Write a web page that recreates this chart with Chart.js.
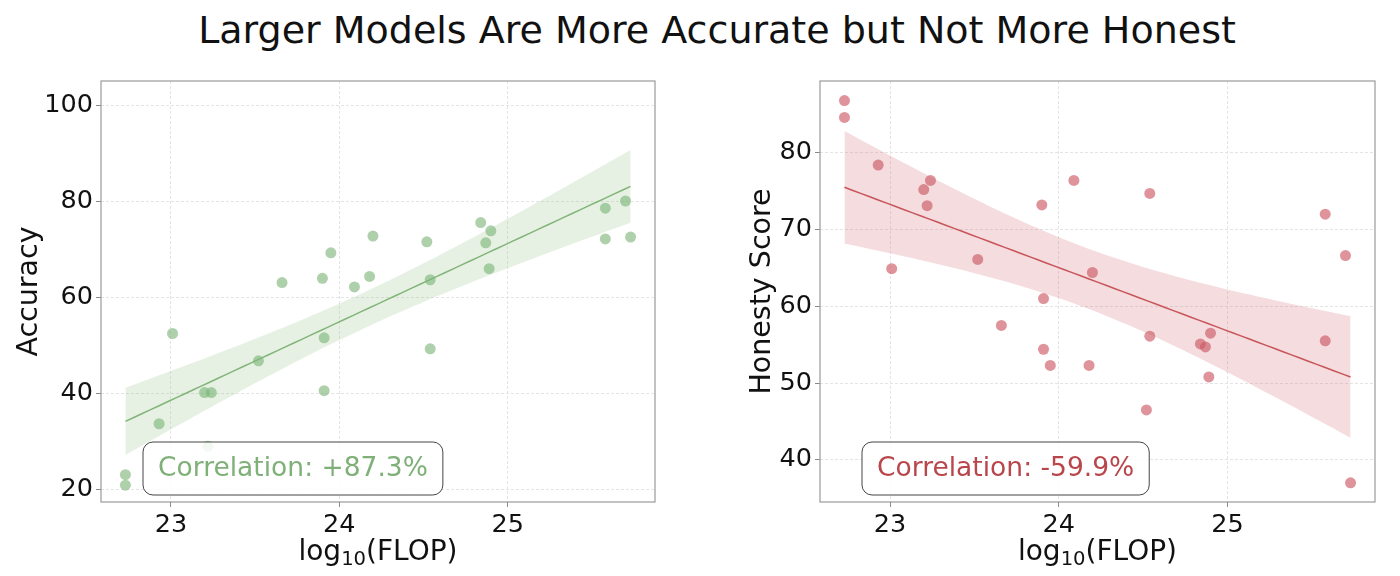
<!DOCTYPE html>
<html>
<head>
<meta charset="utf-8">
<script src="https://cdn.jsdelivr.net/npm/chart.js@4.4.1/dist/chart.umd.min.js"></script>
<style>
  body { margin: 0; background: #fff; width: 1400px; height: 576px; overflow: hidden; font-family: 'DejaVu Sans', sans-serif; }
  #title { position: absolute; top: 8px; left: 0; width: 1400px; padding-left: 34px; box-sizing: border-box;
           text-align: center; font-size: 38px; color: #111; }
  .box { position: absolute; top: 0; width: 700px; height: 576px; }
</style>
</head>
<body>
<div id="title">Larger Models Are More Accurate but Not More Honest</div>
<div class="box" style="left:0"><canvas id="chart-acc"></canvas></div>
<div class="box" style="left:700px"><canvas id="chart-hon"></canvas></div>
<script>
// log10(FLOP) per model (shared by both panels)
const flop = [22.73, 22.73, 22.93, 23.01, 23.20, 23.22, 23.24, 23.52, 23.66, 23.90, 23.91, 23.91, 23.95, 24.09,
              24.18, 24.20, 24.52, 24.54, 24.54, 24.84, 24.87, 24.89, 24.90, 25.58, 25.58, 25.70, 25.73];
const accuracy = [23.0, 20.8, 33.6, 52.4, 40.1, 28.9, 40.1, 46.7, 63.0, 63.9, 40.5, 51.5, 69.2, 62.1,
                  64.3, 72.7, 71.5, 63.6, 49.2, 75.5, 71.3, 65.9, 73.8, 78.5, 72.1, 80.0, 72.5];
const honesty = [86.8, 84.6, 78.4, 64.9, 75.2, 73.1, 76.4, 66.1, 57.5, 73.2, 54.4, 61.0, 52.3, 76.4,
                 52.3, 64.4, 46.5, 74.7, 56.1, 55.1, 54.7, 50.8, 56.5, 72.0, 55.5, 66.6, 37.0];
const xTicks = [23, 24, 25];
const accTicks = [20, 40, 60, 80, 100];
const honTicks = [40, 50, 60, 70, 80];
const accLabel = 'Correlation: +87.3%';
const honLabel = 'Correlation: -59.9%';
// x label pieces: "log", subscript "10", "(FLOP)"
const xLabel = ['log', '10', '(FLOP)'];

const FONT = 'DejaVu Sans';

// least squares fit with 95% confidence band
function regression(xs, ys) {
  const n = xs.length;
  const mx = xs.reduce((a, b) => a + b, 0) / n;
  const my = ys.reduce((a, b) => a + b, 0) / n;
  let sxx = 0, sxy = 0;
  xs.forEach((x, i) => { sxx += (x - mx) ** 2; sxy += (x - mx) * (ys[i] - my); });
  const b = sxy / sxx, a = my - b * mx;
  let sse = 0;
  xs.forEach((x, i) => { sse += (ys[i] - a - b * x) ** 2; });
  const s = Math.sqrt(sse / (n - 2));
  const t = 2.06;
  const lo = Math.min(...xs), hi = Math.max(...xs);
  const line = [], upper = [], lower = [];
  for (let k = 0; k <= 60; k++) {
    const x = lo + (hi - lo) * k / 60;
    const yh = a + b * x;
    const se = t * s * Math.sqrt(1 / n + (x - mx) ** 2 / sxx);
    line.push({ x, y: yh });
    upper.push({ x, y: yh + se });
    lower.push({ x, y: yh - se });
  }
  return { line, upper, lower };
}

function makeChart(id, ys, opts) {
  const fit = regression(flop, ys);
  const frame = {
    id: 'frame',
    afterDraw(chart) {
      const { ctx, chartArea: ca } = chart;
      ctx.save();
      ctx.strokeStyle = '#9a9a9a';
      ctx.lineWidth = 1.2;
      ctx.strokeRect(ca.left, ca.top, ca.right - ca.left, ca.bottom - ca.top);

      // x axis label with a real subscript
      const big = '28px "' + FONT + '"', small = '19.6px "' + FONT + '"';
      ctx.font = big;
      const w0 = ctx.measureText(xLabel[0]).width, w2 = ctx.measureText(xLabel[2]).width;
      ctx.font = small;
      const w1 = ctx.measureText(xLabel[1]).width;
      let x = (ca.left + ca.right) / 2 - (w0 + w1 + w2) / 2;
      const base = 560;
      ctx.fillStyle = '#111';
      ctx.textBaseline = 'alphabetic';
      ctx.font = big; ctx.fillText(xLabel[0], x, base); x += w0;
      ctx.font = small; ctx.fillText(xLabel[1], x, base + 5); x += w1;
      ctx.font = big; ctx.fillText(xLabel[2], x, base);

      // correlation box
      ctx.font = '26.5px "' + FONT + '"';
      const tw = ctx.measureText(opts.note).width;
      const bx = ca.left + 42, by = ca.top + 361, bw = tw + 30, bh = 53;
      ctx.beginPath();
      ctx.roundRect(bx, by, bw, bh, 10);
      ctx.fillStyle = 'rgba(255,255,255,0.85)';
      ctx.fill();
      ctx.strokeStyle = '#444';
      ctx.lineWidth = 1;
      ctx.stroke();
      ctx.fillStyle = opts.noteColor;
      ctx.textBaseline = 'middle';
      ctx.fillText(opts.note, bx + 15, by + bh / 2 + 1);
      ctx.restore();
    }
  };
  new Chart(document.getElementById(id), {
    type: 'scatter',
    data: {
      datasets: [
        { data: flop.map((x, i) => ({ x, y: ys[i] })), backgroundColor: opts.point, borderWidth: 0, pointRadius: 5.5 },
        { data: fit.line, showLine: true, borderColor: opts.line, borderWidth: 1.5, pointRadius: 0 },
        { data: fit.upper, showLine: true, borderWidth: 0, pointRadius: 0 },
        { data: fit.lower, showLine: true, borderWidth: 0, pointRadius: 0, fill: '-1', backgroundColor: opts.band },
      ],
    },
    options: {
      responsive: true,
      maintainAspectRatio: false,
      animation: false,
      events: [],
      layout: { padding: { top: 81, right: opts.padRight, left: 0, bottom: 0 } },
      plugins: { legend: { display: false }, tooltip: { enabled: false } },
      scales: {
        x: {
          type: 'linear', min: 22.585, max: 25.875,
          afterBuildTicks: s => { s.ticks = xTicks.map(v => ({ value: v })); },
          afterFit: s => { s.height = 74; },
          ticks: { color: '#111', font: { family: FONT, size: 25.5 }, padding: 3 },
          grid: { color: '#e4e4e4', tickColor: '#8a8a8a', tickLength: 5, tickBorderDash: [] },
          border: { display: false, dash: [3, 2] },
        },
        y: {
          min: opts.ymin, max: opts.ymax,
          afterBuildTicks: s => { s.ticks = opts.ticks.map(v => ({ value: v })); },
          afterFit: s => { s.width = opts.yWidth; },
          ticks: { color: '#111', font: { family: FONT, size: 25.5 }, padding: 3 },
          grid: { color: '#e4e4e4', tickColor: '#8a8a8a', tickLength: 5, tickBorderDash: [] },
          border: { display: false, dash: [3, 2] },
          title: { display: true, text: opts.yTitle, color: '#111', font: { family: FONT, size: 28.5 }, padding: { top: opts.titlePad, bottom: 0 } },
        },
      },
    },
    plugins: [frame],
  });
}

makeChart('chart-acc', accuracy, {
  ymin: 17.3, ymax: 105, ticks: accTicks, yTitle: 'Accuracy', yWidth: 101, titlePad: 12, padRight: 45,
  point: 'rgba(125,180,120,0.62)', line: 'rgb(130,180,120)', band: 'rgba(140,190,130,0.22)',
  note: accLabel, noteColor: 'rgb(127,176,120)',
});
makeChart('chart-hon', honesty, {
  ymin: 34.5, ymax: 89.35, ticks: honTicks, yTitle: 'Honesty Score', yWidth: 120, titlePad: 45, padRight: 25,
  point: 'rgba(205,90,100,0.65)', line: 'rgb(200,85,90)', band: 'rgba(205,95,110,0.22)',
  note: honLabel, noteColor: 'rgb(185,70,75)',
});
</script>
</body>
</html>
